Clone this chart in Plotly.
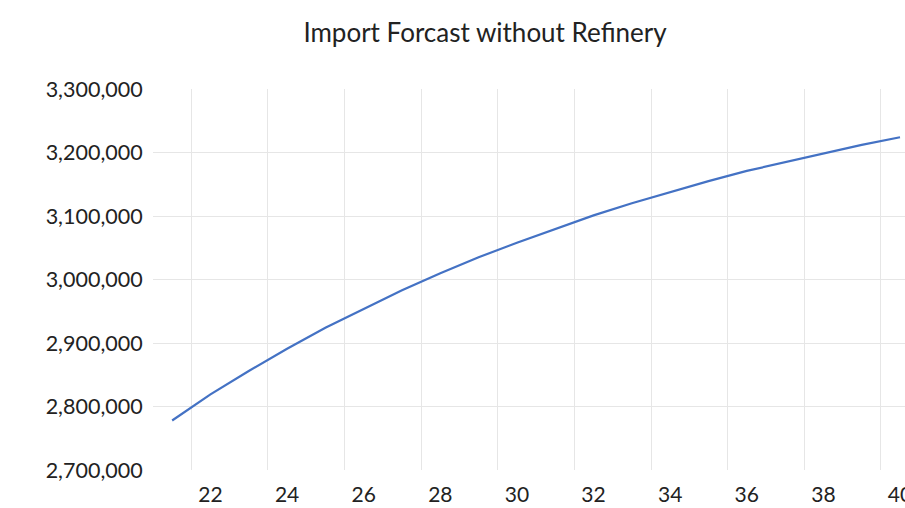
import plotly.graph_objects as go

# Data
years = list(range(21, 41))
imports = [2778000, 2819000, 2856000, 2891000, 2924000, 2954000, 2983000, 3010000,
           3035000, 3058000, 3080000, 3101000, 3120000, 3138000, 3155000, 3171000,
           3185000, 3199000, 3212000, 3224000]
x_tick_vals = [22, 24, 26, 28, 30, 32, 34, 36, 38, 40]
y_tick_vals = [2700000, 2800000, 2900000, 3000000, 3100000, 3200000, 3300000]
title_text = "Import Forcast without Refinery"

FONT = "Lato"
TXT = "#222222"
GRID = "#e6e6e6"

fig = go.Figure()
fig.add_trace(go.Scatter(
    x=years, y=imports, mode="lines",
    line=dict(color="#4472C4", width=2.2),
    hoverinfo="x+y", showlegend=False,
))

fig.update_layout(
    width=905, height=508,
    margin=dict(l=153, r=0, t=89, b=38, pad=0),
    paper_bgcolor="white", plot_bgcolor="white",
    font=dict(family=FONT, color=TXT, size=21),
    title=dict(text=title_text, x=485 / 905, xref="container", xanchor="center",
               y=1 - 33 / 508, yref="container", yanchor="middle",
               font=dict(family=FONT, size=26, color=TXT)),
    xaxis=dict(
        range=[20.5, 40.13], tickmode="array", tickvals=x_tick_vals,
        ticktext=[str(v) for v in x_tick_vals],
        showgrid=False, zeroline=False, showline=False,
        ticks="outside", ticklen=6, tickcolor="rgba(0,0,0,0)",
        ticklabeloverflow="allow",
        tickfont=dict(family=FONT, size=21, color=TXT),
        minor=dict(tickmode="array", tickvals=[21.5 + 2 * i for i in range(10)],
                   showgrid=True, gridcolor=GRID, gridwidth=1, ticks=""),
        automargin=False, fixedrange=True,
    ),
    yaxis=dict(
        range=[2700000, 3300000], tickmode="array", tickvals=y_tick_vals,
        tickformat=",", showgrid=False, zeroline=False, showline=False,
        ticks="outside", ticklen=5, tickcolor="rgba(0,0,0,0)",
        tickfont=dict(family=FONT, size=21.5, color=TXT),
        minor=dict(tickmode="array", tickvals=y_tick_vals[1:-1],
                   showgrid=True, gridcolor=GRID, gridwidth=1, ticks=""),
        automargin=False, fixedrange=True,
    ),
)

fig.write_html("out.html", config={"displayModeBar": False},
               post_script="document.body.style.margin='0';document.body.style.overflow='hidden';")
